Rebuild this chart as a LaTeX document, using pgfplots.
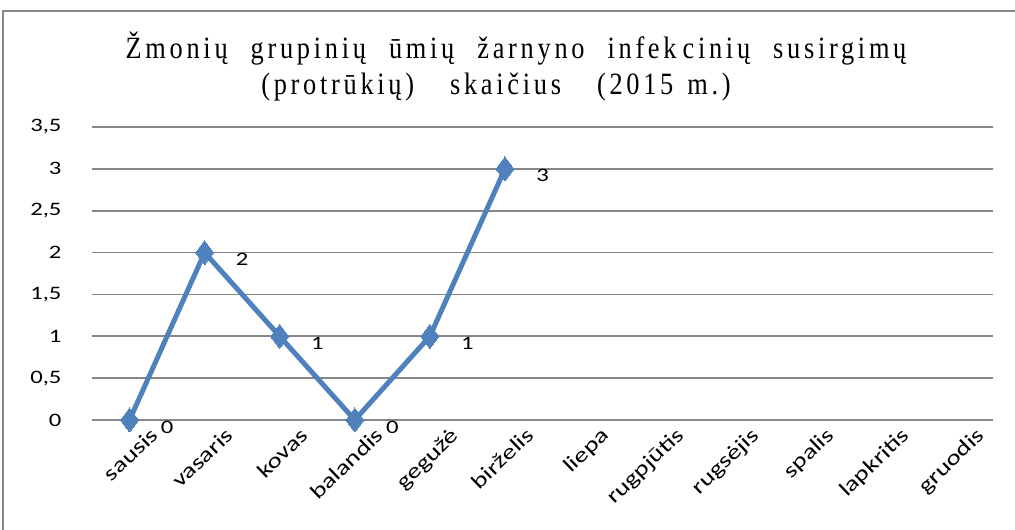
\documentclass[border=0pt]{standalone}
\usepackage{pgfplots}
\pgfplotsset{compat=1.18}
\usepackage{fontspec}
\setmainfont[FakeStretch=1.3]{Carlito}
\newfontfamily\titlefont[FakeStretch=0.85,LetterSpace=12]{Liberation Serif}
\definecolor{serblue}{HTML}{4F81BD}
\definecolor{gridgray}{HTML}{878787}
\begin{document}
\begin{tikzpicture}[x=1pt,y=1pt]
\path[use as bounding box] (0,0) rectangle (1015,530);
\draw[gridgray, line width=1.8pt] (3,-2) -- (3,519) -- (1017,519);
\node[align=center, font=\titlefont\fontsize{31}{36}\selectfont] at (516,464)
  {Žmonių\hspace{23pt}grupinių\hspace{23pt}ūmių\hspace{23pt}žarnyno\hspace{23pt}infek\hspace{6pt}cinių\hspace{23pt}susirgimų\\(protrūkių)\hspace{36pt}skaičius\hspace{36pt}(2015\hspace{14pt}m.)\hspace*{40pt}};
\begin{axis}[
  at={(92pt,110pt)}, anchor=south west,
  scale only axis, width=901pt, height=293pt,
  xmin=-0.5, xmax=11.5, ymin=0, ymax=3.5,
  ytick={0,0.5,...,3.5},
  xtick={0,...,11},
  xticklabels={sausis,vasaris,kovas,balandis,gegužė,birželis,liepa,rugpjūtis,rugsėjis,spalis,lapkritis,gruodis},
  x tick label style={rotate=44, anchor=north east, font=\fontsize{21}{22}\selectfont, inner sep=0pt, xshift=10pt, yshift=-18pt},
  y tick label style={font=\fontsize{19}{22}\selectfont, xshift=-27pt},
  /pgf/number format/assume math mode=true,
  /pgf/number format/use comma,
  yticklabel style={/pgf/number format/fixed},
  ymajorgrids, grid style={gridgray, line width=1.6pt},
  axis line style={draw=none},
  major tick length=0pt,
  clip=false,
]
\addplot[serblue, line width=5pt, mark=diamond*, mark size=12pt,
  mark options={fill=serblue, draw=serblue, line width=0pt},
  nodes near coords, point meta=explicit symbolic,
  every node near coord/.style={anchor=west, font=\fontsize{19}{22}\selectfont, black, xshift=28pt, yshift=-7pt}]
  coordinates {(0,0)[0] (1,2)[2] (2,1)[1] (3,0)[0] (4,1)[1] (5,3)[3]};
\end{axis}
\end{tikzpicture}
\end{document}
